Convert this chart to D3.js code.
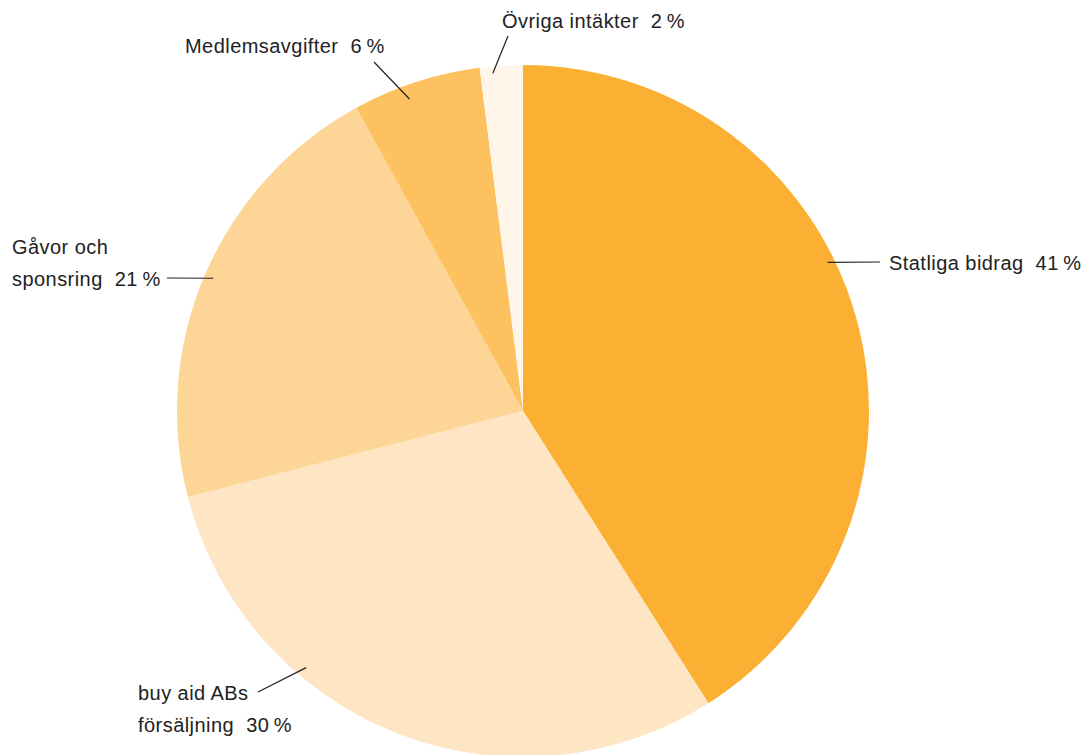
<!DOCTYPE html>
<html>
  <head>
  <meta charset="utf-8">
  <title>Intäkter</title>
  <style>
    body, html { margin: 0; padding: 0; background: #fff; }
    text { font-family: "Liberation Sans", Arial, sans-serif; font-size: 20px; letter-spacing: 0.45px; fill: #222; white-space: pre; }
  </style>
  </head>
  <body>

  <svg id="svg" width="1091" height="755"></svg>

  <script src="https://d3js.org/d3.v7.min.js"></script>
  <script>
    // share of income, clockwise from 12 o'clock
    const categories = ['Statliga bidrag', 'buy aid ABs försäljning', 'Gåvor och sponsring', 'Medlemsavgifter', 'Övriga intäkter']
    const values = [41, 30, 21, 6, 2]
    const colors = ['#fbb034', '#fee6c4', '#fdd596', '#fdc15f', '#fff5e9']

    // label text rows
    const labelLines = [
      ['Statliga bidrag  41\u2009%'],
      ['buy aid ABs', 'försäljning  30\u2009%'],
      ['Gåvor och', 'sponsring  21\u2009%'],
      ['Medlemsavgifter  6\u2009%'],
      ['Övriga intäkter  2\u2009%']
    ]

    const cx = 523, cy = 411, r = 346

    const svg = d3.select('#svg')
    const g = svg.append('g').attr('transform', `translate(${cx}, ${cy})`)

    const pie = d3.pie().sort(null).value(d => d)
    const arcs = pie(values)
    const arc = d3.arc().innerRadius(0).outerRadius(r)

    g.selectAll('path')
      .data(arcs)
      .enter()
      .append('path')
      .attr('d', arc)
      .attr('fill', (d, i) => colors[i])

    // leader lines: start on a point inside the slice (angle, radius), end near the text
    const leaders = [
      { a: 64, rr: 339, end: [880, 262], tx: 889, ty: 270 },
      { a: 220.2, rr: 336, end: [258, 692], tx: 138, ty: 700 },
      { a: 293.2, rr: 337, end: [167, 278], tx: 12, ty: 254 },
      { a: 340, rr: 332, end: [374, 62], tx: 185, ty: 53 },
      { a: 354.9, rr: 339, end: [508, 36], tx: 502, ty: 28 }
    ]

    const toXY = (deg, rad) => {
      const t = deg * Math.PI / 180
      return [cx + rad * Math.sin(t), cy - rad * Math.cos(t)]
    }

    leaders.forEach((l, i) => {
      const p = toXY(l.a, l.rr)
      svg.append('line')
        .attr('x1', p[0]).attr('y1', p[1])
        .attr('x2', l.end[0]).attr('y2', l.end[1])
        .attr('stroke', '#222')
        .attr('stroke-width', 1.2)

      const t = svg.append('text')
        .attr('x', l.tx)
        .attr('y', l.ty)
      labelLines[i].forEach((s, j) => {
        t.append('tspan')
          .attr('x', l.tx)
          .attr('dy', j === 0 ? 0 : 32)
          .text(s)
      })
    })
  </script>
  </body>
</html>
